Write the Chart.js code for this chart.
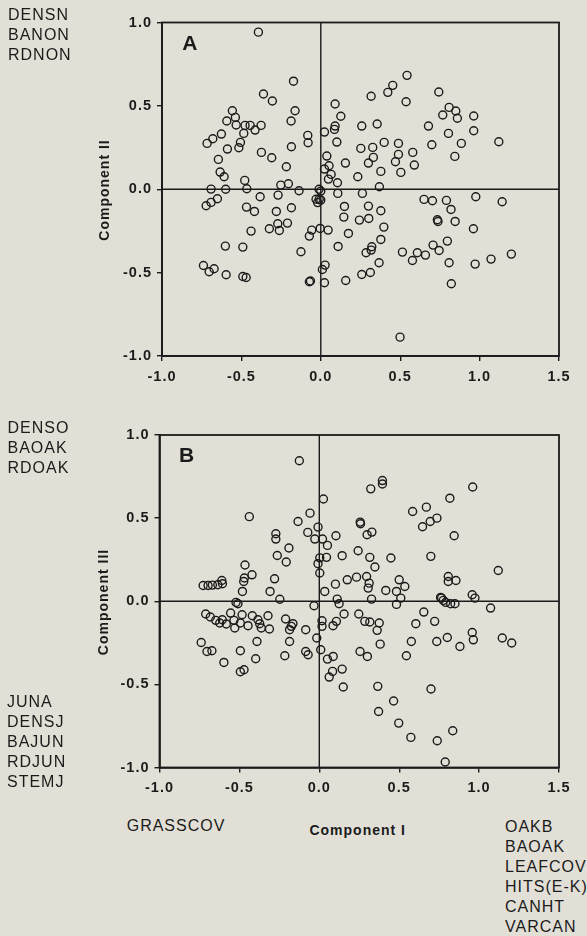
<!DOCTYPE html>
<html>
<head>
<meta charset="utf-8">
<script src="https://cdn.jsdelivr.net/npm/chart.js@4/dist/chart.umd.min.js"></script>
<style>
  html, body { margin: 0; padding: 0; background: #e2e0d6; }
  body { width: 587px; height: 936px; position: relative; overflow: hidden;
         font-family: "Liberation Sans", Arial, sans-serif; color: #1b1b1b; }
  canvas { position: absolute; left: 0; }
  .lbl { position: absolute; font-size: 16px; line-height: 20px; letter-spacing: 1px; white-space: nowrap; }
  .panel { position: absolute; font-size: 21px; font-weight: bold; line-height: 21px; }
  .xtitle { position: absolute; font-size: 14px; font-weight: bold; line-height: 20px; letter-spacing: 1px;
            white-space: nowrap; transform: translateX(-50%); }
  .ytitle { position: absolute; font-size: 14px; font-weight: bold; line-height: 14px; letter-spacing: 1px;
            white-space: nowrap; transform: translate(-50%, -50%) rotate(-90deg); }
</style>
</head>
<body>
<canvas id="chartA" width="587" height="400" style="top:0px"></canvas>
<canvas id="chartB" width="587" height="400" style="top:410px"></canvas>

<div class="lbl" style="left:8px;top:4.5px">DENSN<br>BANON<br>RDNON</div>
<div class="lbl" style="left:7.5px;top:417.8px">DENSO<br>BAOAK<br>RDOAK</div>
<div class="lbl" style="left:7px;top:692.2px">JUNA<br>DENSJ<br>BAJUN<br>RDJUN<br>STEMJ</div>
<div class="lbl" style="left:126.7px;top:816.2px">GRASSCOV</div>
<div class="lbl" style="left:505px;top:816.5px">OAKB<br>BAOAK<br>LEAFCOV<br>HITS(E-K)<br>CANHT<br>VARCAN</div>
<div class="xtitle" style="left:357.7px;top:820px">Component I</div>
<div class="ytitle" style="left:103.5px;top:189.5px">Component II</div>
<div class="ytitle" style="left:103px;top:602px">Component III</div>
<div class="panel" style="left:182.3px;top:32.2px">A</div>
<div class="panel" style="left:179px;top:443.9px">B</div>

<script>
// Axis ranges and tick labels shared by both panels
const xTicks = [-1.0, -0.5, 0.0, 0.5, 1.0, 1.5];
const yTicks = [-1.0, -0.5, 0.0, 0.5, 1.0];

// Panel A: site scores on Component I (x) and Component II (y)
const compI_A = [
  -0.393, -0.172, -0.361, -0.305, -0.162, -0.187, -0.557, -0.538, -0.592, -0.533,
  -0.477, -0.445, -0.376, -0.414, -0.485, -0.626, -0.680, -0.716, -0.506, -0.516,
  -0.588, -0.185, -0.374, -0.309, -0.645, -0.217, -0.634, -0.609, -0.479, -0.691,
  -0.599, -0.466, -0.252, -0.204, -0.137, -0.382, -0.269, -0.722, -0.691, -0.651,
  -0.468, -0.418, -0.280, -0.185, -0.439, -0.324, -0.271, -0.261, -0.210, -0.125,
  -0.601, -0.491, -0.739, -0.703, -0.672, -0.596, -0.491, -0.470, -0.082, -0.080,
   0.090,  0.126,  0.090,  0.086,  0.023,  0.101,  0.038,  0.052,  0.023,  0.065,
   0.048,  0.105,  0.155,  0.233,  0.258,  0.317,  0.355,  0.252,  0.327,  0.331,
   0.300,  0.378,  0.399,  0.369,  0.422,  0.453,  0.543,  0.537,  0.489,  0.489,
   0.470,  0.504,  0.579,  0.589,  0.743,  0.808,  0.850,  0.768,  0.860,  0.963,
   0.963,  0.678,  0.804,  0.885,  0.699,  0.844,  1.121, -0.011,  0.000, -0.030,
  -0.010,  0.000, -0.020,  0.107,  0.262,  0.149,  0.300,  0.378,  0.650,  0.703,
   0.791,  0.820,  0.976,  1.142, -0.057, -0.072, -0.004,  0.046,  0.145,  0.174,
   0.109,  0.243,  0.302,  0.397,  0.378,  0.321,  0.285,  0.317,  0.367,  0.258,
   0.312,  0.157,  0.027,  0.010, -0.072, -0.065,  0.023,  0.514,  0.577,  0.608,
   0.659,  0.707,  0.745,  0.797,  0.808,  0.822,  0.846,  0.734,  0.738,  0.961,
   0.972,  1.072,  1.200,  0.499
];
const compII_A = [
   0.942,  0.648,  0.571,  0.529,  0.471,  0.409,  0.471,  0.431,  0.409,  0.385,
   0.383,  0.383,  0.383,  0.355,  0.335,  0.331,  0.303,  0.275,  0.281,  0.249,
   0.241,  0.255,  0.221,  0.189,  0.179,  0.135,  0.103,  0.075,  0.053,  0.001,
   0.000,  0.003,  0.025,  0.033, -0.009, -0.045, -0.035, -0.099, -0.079, -0.057,
  -0.107, -0.133, -0.133, -0.111, -0.251, -0.237, -0.207, -0.247, -0.203, -0.375,
  -0.341, -0.347, -0.457, -0.495, -0.477, -0.513, -0.523, -0.529,  0.323,  0.279,
   0.511,  0.438,  0.379,  0.359,  0.343,  0.283,  0.199,  0.141,  0.121,  0.089,
   0.061,  0.039,  0.157,  0.075,  0.379,  0.558,  0.391,  0.245,  0.251,  0.191,
   0.157,  0.107,  0.281,  0.015,  0.581,  0.623,  0.683,  0.525,  0.275,  0.209,
   0.165,  0.101,  0.221,  0.145,  0.583,  0.491,  0.469,  0.445,  0.426,  0.439,
   0.351,  0.379,  0.335,  0.275,  0.267,  0.197,  0.285,  0.000, -0.011, -0.060,
  -0.060, -0.065, -0.080, -0.025, -0.025, -0.103, -0.101, -0.129, -0.061, -0.069,
  -0.067, -0.121, -0.045, -0.075, -0.245, -0.281, -0.235, -0.245, -0.167, -0.265,
  -0.343, -0.185, -0.175, -0.227, -0.301, -0.345, -0.381, -0.365, -0.441, -0.511,
  -0.499, -0.547, -0.455, -0.481, -0.555, -0.550, -0.561, -0.377, -0.427, -0.381,
  -0.395, -0.335, -0.367, -0.311, -0.441, -0.567, -0.193, -0.183, -0.193, -0.237,
  -0.449, -0.419, -0.389, -0.887
];

// Panel B: site scores on Component I (x) and Component III (y)
const compI_B = [
  -0.438, -0.125, -0.133, -0.272, -0.272, -0.190, -0.263, -0.207, -0.465, -0.469,
  -0.473, -0.421, -0.280, -0.481, -0.308, -0.247, -0.727, -0.696, -0.669, -0.635,
  -0.606, -0.610, -0.521, -0.509, -0.711, -0.682, -0.648, -0.623, -0.607, -0.582,
  -0.555, -0.534, -0.529, -0.483, -0.494, -0.446, -0.419, -0.384, -0.373, -0.363,
  -0.321, -0.312, -0.211, -0.165, -0.186, -0.175, -0.739, -0.703, -0.672, -0.597,
  -0.494, -0.494, -0.471, -0.390, -0.398, -0.216, -0.186,  0.026, -0.058, -0.072,
  -0.028, -0.008,  0.020,  0.051,  0.104,  0.003, -0.008,  0.045,  0.003,  0.143,
   0.243,  0.256,  0.258,  0.316,  0.299,  0.329,  0.348,  0.322,  0.395,  0.395,
   0.448,  0.584,  0.670,  0.646,  0.694,  0.736,  0.817,  0.844,  0.960,  0.698,
   1.120,  0.807,  0.807,  0.855,  0.957,  0.974,  0.765,  0.175,  0.233,  0.296,
   0.312,  0.306,  0.101,  0.034,  0.112,  0.500,  0.535,  0.483,  0.416,  0.327,
   0.510,  0.124, -0.033,  0.483,  0.759,  0.776,  0.791,  0.822,  0.849,  1.072,
   0.155,  0.247,  0.285,  0.316,  0.375,  0.362,  0.654,  0.722,  0.604,  0.017,
   0.017,  0.107,  0.086, -0.085, -0.016, -0.085, -0.070,  0.009,  0.051,  0.087,
   0.143,  0.083,  0.062,  0.150,  0.255,  0.301,  0.381,  0.576,  0.545,  0.735,
   0.801,  0.880,  0.957,  0.964,  1.145,  1.204,  0.366,  0.465,  0.699,  0.371,
   0.497,  0.573,  0.738,  0.835,  0.788
];
const compIII_B = [
   0.509,  0.845,  0.480,  0.406,  0.374,  0.320,  0.275,  0.236,  0.218,  0.140,
   0.119,  0.159,  0.135,  0.059,  0.059,  0.012,  0.095,  0.095,  0.097,  0.099,
   0.105,  0.125, -0.007, -0.015, -0.077, -0.095, -0.115, -0.131, -0.111, -0.137,
  -0.071, -0.115, -0.161, -0.081, -0.131, -0.147, -0.087, -0.111, -0.135, -0.161,
  -0.087, -0.167, -0.107, -0.135, -0.171, -0.151, -0.248, -0.302, -0.298, -0.368,
  -0.298, -0.424, -0.412, -0.242, -0.346, -0.328, -0.242,  0.615,  0.530,  0.414,
   0.374,  0.446,  0.374,  0.336,  0.394,  0.261,  0.226,  0.264,  0.170,  0.274,
   0.304,  0.476,  0.466,  0.264,  0.400,  0.416,  0.206,  0.676,  0.726,  0.705,
   0.260,  0.540,  0.566,  0.448,  0.480,  0.500,  0.620,  0.394,  0.687,  0.270,
   0.185,  0.149,  0.119,  0.125,  0.039,  0.019,  0.019,  0.129,  0.145,  0.149,
   0.109,  0.079,  0.103,  0.059,  0.013,  0.129,  0.089,  0.059,  0.065,  0.013,
   0.019, -0.015, -0.027, -0.019,  0.023,  0.005, -0.007, -0.015, -0.015, -0.041,
  -0.077, -0.077, -0.121, -0.125, -0.131, -0.175, -0.065, -0.121, -0.135, -0.117,
  -0.151, -0.121, -0.147, -0.171, -0.221, -0.302, -0.322, -0.292, -0.348, -0.332,
  -0.408, -0.422, -0.456, -0.516, -0.302, -0.332, -0.258, -0.242, -0.328, -0.242,
  -0.218, -0.272, -0.188, -0.232, -0.221, -0.251, -0.512, -0.600, -0.528, -0.663,
  -0.733, -0.819, -0.839, -0.779, -0.967
];

const INK = '#1b1b1b';
const FONT = '"Liberation Sans", Arial, sans-serif';

// Closed frame round the plot area plus the zero lines of both components
const framePlugin = {
  id: 'frame',
  beforeDraw(chart) {
    chart.ctx.letterSpacing = '1px';
  },
  beforeDatasetsDraw(chart) {
    const { ctx, chartArea: a, scales } = chart;
    const x0 = scales.x.getPixelForValue(0);
    const y0 = scales.y.getPixelForValue(0);
    ctx.save();
    ctx.strokeStyle = INK;
    ctx.lineWidth = 1.4;
    ctx.beginPath();
    ctx.moveTo(x0, a.top); ctx.lineTo(x0, a.bottom);
    ctx.moveTo(a.left, y0); ctx.lineTo(a.right, y0);
    ctx.stroke();
    ctx.restore();
  },
  afterDraw(chart) {
    const { ctx, chartArea: a } = chart;
    ctx.save();
    ctx.strokeStyle = INK;
    ctx.lineWidth = 1.8;
    ctx.strokeRect(a.left, a.top, a.right - a.left, a.bottom - a.top);
    ctx.restore();
  }
};

function tickValues(list) {
  return (scale) => { scale.ticks = list.map(v => ({ value: v })); };
}

function makePanel(id, xs, ys, g) {
  const points = xs.map((x, i) => ({ x: x, y: ys[i] }));
  const tickFont = { family: FONT, size: 14.5, weight: 'bold' };
  return new Chart(document.getElementById(id), {
    type: 'scatter',
    data: {
      datasets: [{
        data: points,
        pointStyle: 'circle',
        pointRadius: 4,
        pointHoverRadius: 4,
        borderWidth: 1.4,
        borderColor: INK,
        backgroundColor: 'rgba(0,0,0,0)'
      }]
    },
    options: {
      responsive: false,
      animation: false,
      devicePixelRatio: 1,
      events: [],
      layout: { padding: { top: g.padTop, right: g.padRight, left: 0, bottom: 0 } },
      plugins: { legend: { display: false }, tooltip: { enabled: false } },
      scales: {
        x: {
          type: 'linear',
          min: xTicks[0],
          max: xTicks[xTicks.length - 1],
          afterBuildTicks: tickValues(xTicks),
          ticks: { callback: v => Number(v).toFixed(1), font: tickFont, color: INK,
                   padding: 7, maxRotation: 0, autoSkip: false },
          grid: { drawOnChartArea: false, drawTicks: true, tickLength: 5, color: INK, lineWidth: 1.4 },
          border: { display: true, color: INK, width: 1.8 },
          afterFit: s => { s.height = g.xAxisH; }
        },
        y: {
          type: 'linear',
          min: yTicks[0],
          max: yTicks[yTicks.length - 1],
          afterBuildTicks: tickValues(yTicks),
          ticks: { callback: v => Number(v).toFixed(1), font: tickFont, color: INK,
                   padding: 5, autoSkip: false },
          grid: { drawOnChartArea: false, drawTicks: true, tickLength: 5, color: INK, lineWidth: 1.4 },
          border: { display: true, color: INK, width: 1.8 },
          afterFit: s => { s.width = g.yAxisW; }
        }
      }
    },
    plugins: [framePlugin]
  });
}

makePanel('chartA', compI_A, compII_A, { padTop: 22.5, padRight: 28, yAxisW: 162, xAxisH: 44 });
makePanel('chartB', compI_B, compIII_B, { padTop: 25, padRight: 28, yAxisW: 159.5, xAxisH: 42.5 });
</script>
</body>
</html>
